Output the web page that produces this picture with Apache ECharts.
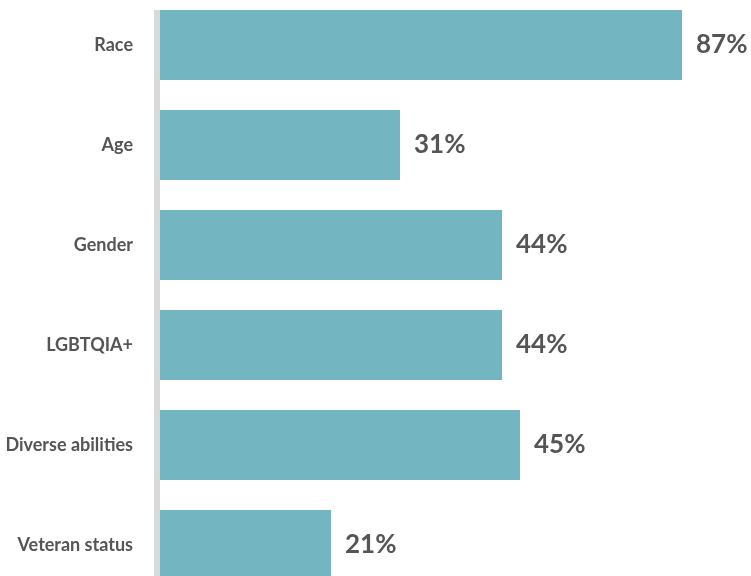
<!DOCTYPE html>
<html>
<head>
<meta charset="utf-8">
<script src="https://cdn.jsdelivr.net/npm/echarts@6/dist/echarts.min.js"></script>
<style>
  html, body { margin: 0; padding: 0; background: #fff; }
  #chart { width: 751px; height: 576px; }
</style>
</head>
<body>
<div id="chart"></div>
<script>
// categories, top to bottom
const categories = ['Race', 'Age', 'Gender', 'LGBTQIA+', 'Diverse abilities', 'Veteran status'];
// bar lengths as drawn in the picture (percent scale)
const barLengths = [87, 40, 57, 57, 60, 28.5];
// value labels as printed next to the bars
const valueLabels = ['87%', '31%', '44%', '44%', '45%', '21%'];

const myChart = echarts.init(document.getElementById('chart'));
const option = {
  animation: false,
  grid: {
    left: 160,
    top: -5,
    width: 600,
    height: 600,
    containLabel: false,
    outerBoundsMode: 'none',
  },
  xAxis: {
    type: 'value',
    min: 0,
    max: 100,
    show: false,
  },
  yAxis: {
    type: 'category',
    data: categories,
    inverse: true,
    axisLine: { show: false },
    axisTick: { show: false },
    splitLine: { show: false },
    axisLabel: {
      margin: 27,
      color: '#555',
      fontFamily: 'Lato',
      fontWeight: 'bold',
      fontSize: 18,
    },
  },
  // grey axis line on the left of the bars
  graphic: [
    {
      type: 'rect',
      left: 154,
      top: 10,
      shape: { width: 6, height: 566 },
      style: { fill: '#d9d9d9' },
      z: 10,
    },
  ],
  series: [
    {
      type: 'bar',
      data: barLengths,
      barWidth: 70,
      itemStyle: { color: '#73b5c1' },
      label: {
        show: true,
        position: 'right',
        distance: 14,
        color: '#555',
        fontFamily: 'Lato',
        fontWeight: 'bold',
        fontSize: 26,
        formatter: p => valueLabels[p.dataIndex],
      },
    },
  ],
};
myChart.setOption(option);
</script>
</body>
</html>
